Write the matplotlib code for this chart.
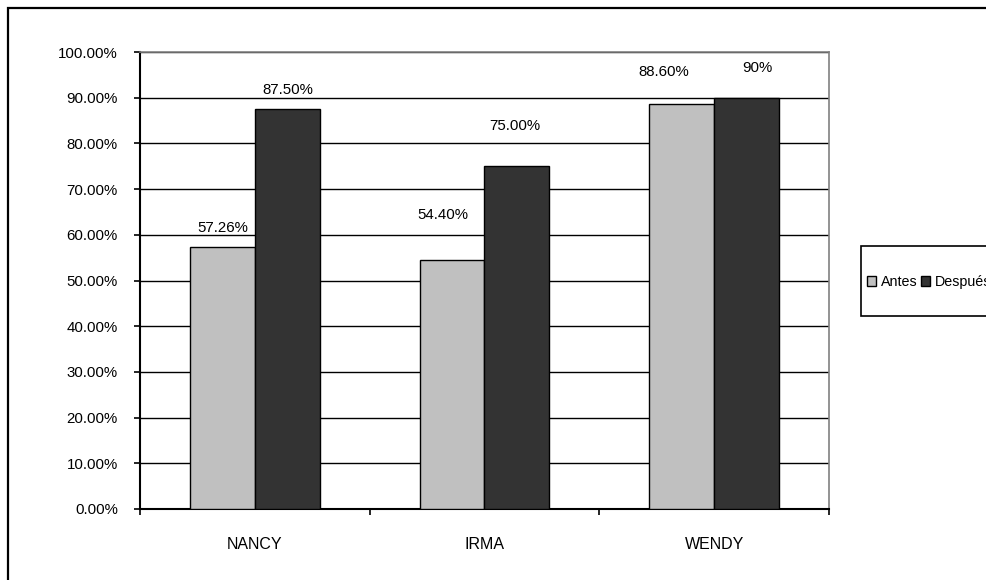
import matplotlib
matplotlib.use("Agg")
import matplotlib.pyplot as plt
from matplotlib.patches import Rectangle
import numpy as np

plt.rcParams['font.family'] = ['Liberation Sans', 'DejaVu Sans']

categories = ["NANCY", "IRMA", "WENDY"]
series_names = ["Antes", "Después"]
antes = [57.26, 54.40, 88.60]
despues = [87.50, 75.00, 90.00]
antes_labels = ["57.26%", "54.40%", "88.60%"]
despues_labels = ["87.50%", "75.00%", "90%"]
yticks = list(range(0, 101, 10))
ytick_labels = [f"{v:.2f}%" for v in yticks]

# label placement offsets (position/styling only)
antes_lbl_dy = [4.2, 9.9, 7.0]
despues_lbl_dy = [4.2, 8.8, 6.5]
antes_lbl_dx = [0.0, -0.04, -0.08]
despues_lbl_dx = [0.0, -0.01, 0.045]

W, H = 987, 580
fig = plt.figure(figsize=(W / 100, H / 100), dpi=100)
fig.patch.set_facecolor('white')

ax = fig.add_axes([140 / W, (H - 509) / H, 689 / W, 457 / H])

x = np.arange(len(categories))
bw = 0.283
b1 = ax.bar(x - bw / 2, antes, bw, color='#C0C0C0', edgecolor='black', linewidth=1.0, zorder=3)
b2 = ax.bar(x + bw / 2, despues, bw, color='#333333', edgecolor='black', linewidth=1.0, zorder=3)

for i in range(len(categories)):
    ax.text(x[i] - bw / 2 + antes_lbl_dx[i], antes[i] + antes_lbl_dy[i], antes_labels[i],
            ha='center', va='center', fontsize=10.8, color='black', zorder=4)
    ax.text(x[i] + bw / 2 + despues_lbl_dx[i], despues[i] + despues_lbl_dy[i], despues_labels[i],
            ha='center', va='center', fontsize=10.8, color='black', zorder=4)

ax.set_xlim(-0.5, len(categories) - 0.5)
ax.set_ylim(0, 100)
ax.set_yticks(yticks)
ax.set_yticklabels(ytick_labels, fontsize=10.8)
ax.yaxis.grid(True, color='black', linewidth=1.0)
ax.set_axisbelow(True)

ax.set_xticks(np.arange(-0.5, len(categories), 1.0))
ax.set_xticklabels([])
ax.set_xticks(x, minor=True)
ax.set_xticklabels(categories, minor=True, fontsize=11.5)
ax.tick_params(axis='x', which='major', direction='out', length=4, width=1.2, color='black')
ax.tick_params(axis='x', which='minor', length=0, pad=20)
ax.tick_params(axis='y', direction='out', length=4, width=1.2, color='black', pad=12)

for s in ['left', 'bottom']:
    ax.spines[s].set_color('black')
    ax.spines[s].set_linewidth(1.5)
for s in ['top', 'right']:
    ax.spines[s].set_color('#808080')
    ax.spines[s].set_linewidth(1.2)

# legend box
fig.patches.append(Rectangle((861 / W, (H - 316) / H), 300 / W, 70 / H,
                             transform=fig.transFigure, facecolor='white',
                             edgecolor='black', linewidth=1.2, zorder=1))
fig.legend(handles=[b1, b2], labels=series_names, loc='center left',
           bbox_to_anchor=(867 / W, (H - 282) / H), frameon=False, ncol=2,
           handlelength=0.65, handleheight=0.65, handletextpad=0.35,
           columnspacing=0.2, borderpad=0, borderaxespad=0, fontsize=10.3)

# outer chart frame
fig.patches.append(Rectangle((8 / W, -0.1), 1.2, (H - 8) / H + 0.1,
                             transform=fig.transFigure, facecolor='none',
                             edgecolor='black', linewidth=1.6, zorder=0))

fig.savefig("out.png", dpi=100)
